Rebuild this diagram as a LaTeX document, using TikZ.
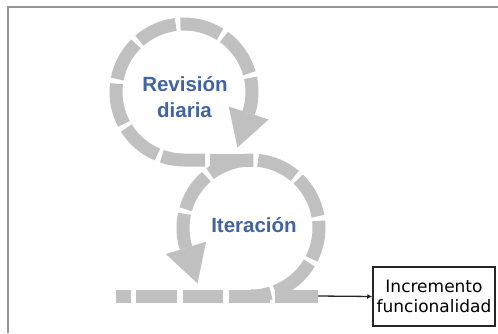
\documentclass[tikz,border=0pt]{standalone}
\usepackage{fontspec}
\setmainfont{Liberation Sans}
\newfontfamily\boxfont{DejaVu Sans}
\usetikzlibrary{arrows.meta}
\definecolor{bandgray}{RGB}{192,192,192}
\definecolor{lblblue}{RGB}{66,100,160}
\definecolor{framegray}{RGB}{150,150,150}
\begin{document}
\begin{tikzpicture}[x=1pt,y=1pt,
  band/.style={line width=13pt, draw=bandgray, line cap=butt},
  headfill/.style={fill=bandgray},
  lbl/.style={text=lblblue, font=\fontsize{20.5}{24}\selectfont\bfseries, inner sep=0pt, anchor=base},
  boxstyle/.style={draw=black!85, line width=1.5pt, minimum width=122pt, minimum height=59pt,
    inner sep=0pt, align=center, font=\boxfont\fontsize{17}{19.5}\selectfont},
  link/.style={draw=black!85, line width=1.3pt, -{Latex[length=5pt,width=5pt]}}
]
\useasboundingbox (0,0) rectangle (498,333);
\fill[white] (0,0) rectangle (498,333);
% frame
\draw[framegray, line width=2pt] (8,0) -- (8,326) -- (498,326);

\coordinate (T) at (184,241);
\coordinate (L) at (251,105);

% upper loop (Revision diaria)
\draw[band] (253,173) -- (210,173);
\draw[band] (205,173) -- (184,173) arc[start angle=270, end angle=251, radius=68];
\begin{scope}[shift={(T)}]
  \foreach \a/\b in {247/212, 208/173, 169/135, 131/97, 93/58, 54/16, 12/-18}
    \draw[band] (\a:68) arc[start angle=\a, end angle=\b, radius=68];
  \fill[headfill] (-18:47) -- (-18:89) -- (-46:77) -- cycle;
\end{scope}

% lower loop (Iteracion)
\begin{scope}[shift={(L)}]
  \foreach \a/\b in {-69/-31, -27/6, 10/46, 50/84, 88/127, 131/164, 168/197, 270/287}
    \draw[band] (\a:68) arc[start angle=\a, end angle=\b, radius=68];
  \fill[headfill] (197:47) -- (197:89) -- (226:77) -- cycle;
\end{scope}

% bottom bar
\foreach \a/\b in {116/131, 136/177, 183/223, 229/270, 275/318}
  \draw[band] (\a,37) -- (\b,37);
\coordinate (barend) at (318,37);

% labels
\node[lbl] (rev1) at (185,242) {Revisión};
\node[lbl] (rev2) at (184.5,216) {diaria};
\node[lbl] (iter) at (254,101) {Iteración};

% output box
\node[boxstyle] (box) at (434,36.5) {Incremento\\funcionalidad};
\draw[link] (barend) -- (box.west);
\end{tikzpicture}
\end{document}
